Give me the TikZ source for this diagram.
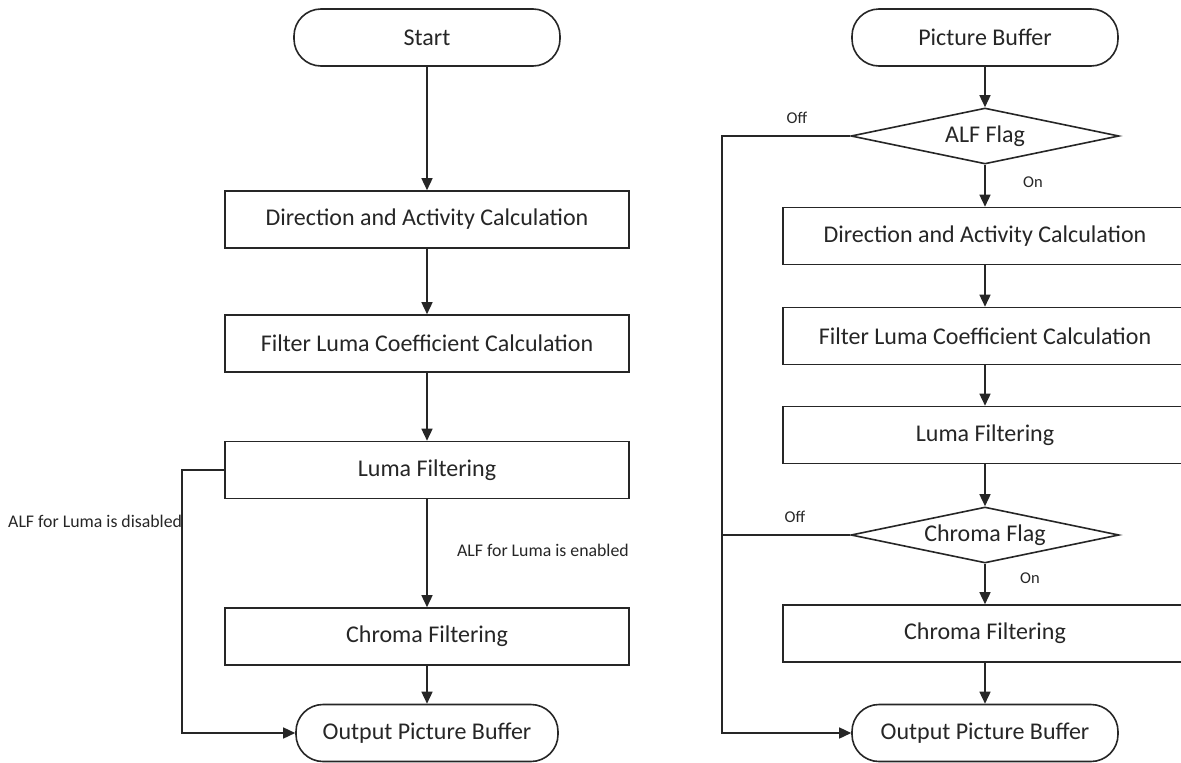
\documentclass[tikz,border=0pt]{standalone}
\usepackage{fontspec}
\setmainfont{Carlito}
\usetikzlibrary{arrows.meta,shapes.geometric}
\tikzset{
  base/.style={draw=black!85, line width=1.6pt, fill=white, inner sep=0pt, font=\fontsize{24}{28}\selectfont, text=black!85},
  proc/.style={base, rectangle, minimum width=404pt, minimum height=57pt},
  term/.style={base, rectangle, rounded corners=27pt, minimum width=266pt, minimum height=57pt},
  decide/.style={base, diamond, aspect=4.8, minimum width=268pt, minimum height=56pt},
  arr/.style={draw=black!85, line width=1.5pt, -{Triangle[length=12pt,width=11pt]}},
  conn/.style={draw=black!85, line width=1.5pt},
  lab/.style={inner sep=0pt, text=black!85, font=\fontsize{17.8}{20}\selectfont},
  slab/.style={inner sep=0pt, text=black!85, font=\fontsize{16.5}{19}\selectfont}
}
\begin{document}
\begin{tikzpicture}[x=1pt,y=-1pt]
\useasboundingbox (0,0) rectangle (1181,763);
\clip (0,0) rectangle (1181,763);
% left column
\node[term] (start) at (427,37.5) {Start};
\node[proc] (ldac) at (427,219.5) {Direction and Activity Calculation};
\node[proc] (lflc) at (427,343.5) {Filter Luma Coefficient Calculation};
\node[proc] (llf) at (427,470) {Luma Filtering};
\node[proc] (lcf) at (427,636.5) {Chroma Filtering};
\node[term, minimum width=262pt] (lout) at (427,733) {Output Picture Buffer};
\coordinate (lbp) at (182,470);
\draw[arr] (start) -- (ldac);
\draw[arr] (ldac) -- (lflc);
\draw[arr] (lflc) -- (llf);
\draw[arr] (llf) -- (lcf);
\draw[arr] (lcf) -- (lout);
\draw[arr] (llf.west) -- (lbp) |- (lout.west);
\node[lab, anchor=west] (ldis) at (8,521) {ALF for Luma is disabled};
\node[lab, anchor=east] (len) at (629,550) {ALF for Luma is enabled};
% right column
\node[term] (rpb) at (985,37.5) {Picture Buffer};
\node[decide] (ralf) at (985,136) {ALF Flag};
\node[proc] (rdac) at (985,236) {Direction and Activity Calculation};
\node[proc] (rflc) at (985,336) {Filter Luma Coefficient Calculation};
\node[proc] (rlf) at (985,435) {Luma Filtering};
\node[decide] (rcfl) at (985,535) {Chroma Flag};
\node[proc] (rcf) at (985,633.5) {Chroma Filtering};
\node[term] (rout) at (985,733) {Output Picture Buffer};
\coordinate (rbp) at (722,136);
\coordinate (rbp2) at (722,535);
\draw[arr] (rpb) -- (ralf);
\draw[arr] (ralf) -- (rdac);
\draw[arr] (rdac) -- (rflc);
\draw[arr] (rflc) -- (rlf);
\draw[arr] (rlf) -- (rcfl);
\draw[arr] (rcfl) -- (rcf);
\draw[arr] (rcf) -- (rout);
\draw[arr] (ralf.west) -- (rbp) |- (rout.west);
\draw[conn] (rcfl.west) -- (rbp2);
\node[slab] (off1) at (797,118) {Off};
\node[slab] (on1) at (1033,182) {On};
\node[slab] (off2) at (795,517) {Off};
\node[slab] (on2) at (1030,578) {On};
\end{tikzpicture}
\end{document}
